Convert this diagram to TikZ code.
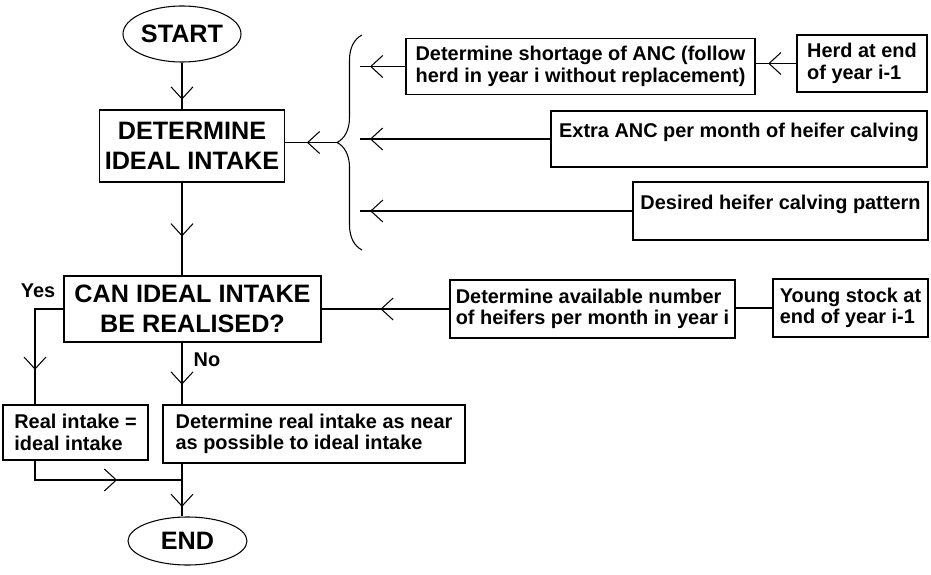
\documentclass[tikz,border=0pt]{standalone}
\usepackage{fontspec}
\setmainfont{Liberation Sans}
\usetikzlibrary{arrows.meta, shapes.geometric, decorations.markings, decorations.pathreplacing}
\newcommand\bigtxt{\fontsize{21.5}{25.5}\selectfont\bfseries}
\newcommand\smalltxt{\fontsize{17}{18.5}\selectfont\bfseries}

\begin{document}
\begin{tikzpicture}[
                x=0.3mm, y=-0.3mm,
                line width=0.9pt,
                big/.style={
                    draw,
                    align=center,
                    font=\bigtxt
                },
                box/.style={
                    draw,
                    align=left,
                    font=\smalltxt
                },
                oneline/.style={text depth=5mm},
                term/.style={
                    draw,
                    ellipse,
                    inner sep=0pt,
                    font=\bigtxt
                },
                flow/.style={
                    postaction={decorate, decoration={markings,
                        mark=at position #1 with {\arrow{Straight Barb[length=3.6mm, width=6.6mm]}}}}
                },
                every node/.style={font=\smalltxt}
            ]

                \useasboundingbox (0,0) rectangle (931,575);

                % main column
                \node[term, minimum width=35.4mm, minimum height=16.8mm] (start) at (182,34) {START};
                \node[big, minimum width=55.5mm, minimum height=21.6mm] (ideal) at (192,146) {DETERMINE\\IDEAL INTAKE};
                \node[big, minimum width=77.1mm, minimum height=19.8mm] (can) at (192.5,309) {CAN IDEAL INTAKE\\BE REALISED?};
                \node[box, minimum width=43.5mm, minimum height=16.5mm] (realeq) at (75.5,432.5) {Real intake =\\ideal intake};
                \node[box, minimum width=90.6mm, minimum height=17.4mm] (realnear) at (314,434) {Determine real intake as near\\as possible to ideal intake};
                \node[term, minimum width=35.7mm, minimum height=14.4mm] (end) at (187.5,541) {END};

                \node (yes) at (38,291) {Yes};
                \node (no) at (207,360) {No};

                % inputs
                \node[box, minimum width=104.7mm, minimum height=16.8mm] (short) at (580.5,66.5) {Determine shortage of ANC (follow\\herd in year i without replacement)};
                \node[box, minimum width=39mm, minimum height=17.1mm] (herd) at (862,63.5) {Herd at end\\of year i-1};
                \node[box, oneline, minimum width=112.8mm, minimum height=16.8mm] (extra) at (739,139) {Extra ANC per month of heifer calving};
                \node[box, oneline, minimum width=88.5mm, minimum height=17.4mm] (desired) at (780.5,211) {Desired heifer calving pattern};
                \node[box, minimum width=85.5mm, minimum height=17.4mm] (avail) at (592.5,309) {Determine available number\\of heifers per month in year i};
                \node[box, minimum width=46.5mm, minimum height=17.4mm] (young) at (850.5,308) {Young stock at\\end of year i-1};

                % brace
                \coordinate (btop) at (362,35);
                \coordinate (bbot) at (362,250);
                \coordinate (btip) at (337,142.5);
                \coordinate (bin) at (360,0);
                \draw[decorate, decoration={brace, amplitude=7.5mm}] (bbot) -- (btop);

                \coordinate (yx) at (35,0);
                \coordinate (jn) at (182,480);

                \draw[flow=0.79] (start) -- (start |- ideal.north);
                \draw[flow=0.58] (btip) -- (btip -| ideal.east);
                \draw[flow=0.78] (short.west) -- (short.west -| bin);
                \draw[flow=0.69] (herd.west) -- (herd.west -| short.east);
                \draw[flow=0.948] (extra.west) -- (extra.west -| bin);
                \draw[flow=0.963] (desired.west) -- (desired.west -| bin);
                \draw[flow=0.58] (ideal.south -| start) -- (can.north -| start);
                \draw[flow=0.54] (avail.west) -- (avail.west -| can.east);
                \draw (young.west) -- (young.west -| avail.east);
                \draw[flow=0.72] (can.west) -| (yx |- realeq.north);
                \draw[flow=0.68] (can.south -| start) -- (realnear.north -| start);
                \draw[flow=0.61] (realeq.south -| yx) |- (jn);
                \draw[flow=0.82] (realnear.south -| start) -- (end.north -| start);

            \end{tikzpicture}
\end{document}
